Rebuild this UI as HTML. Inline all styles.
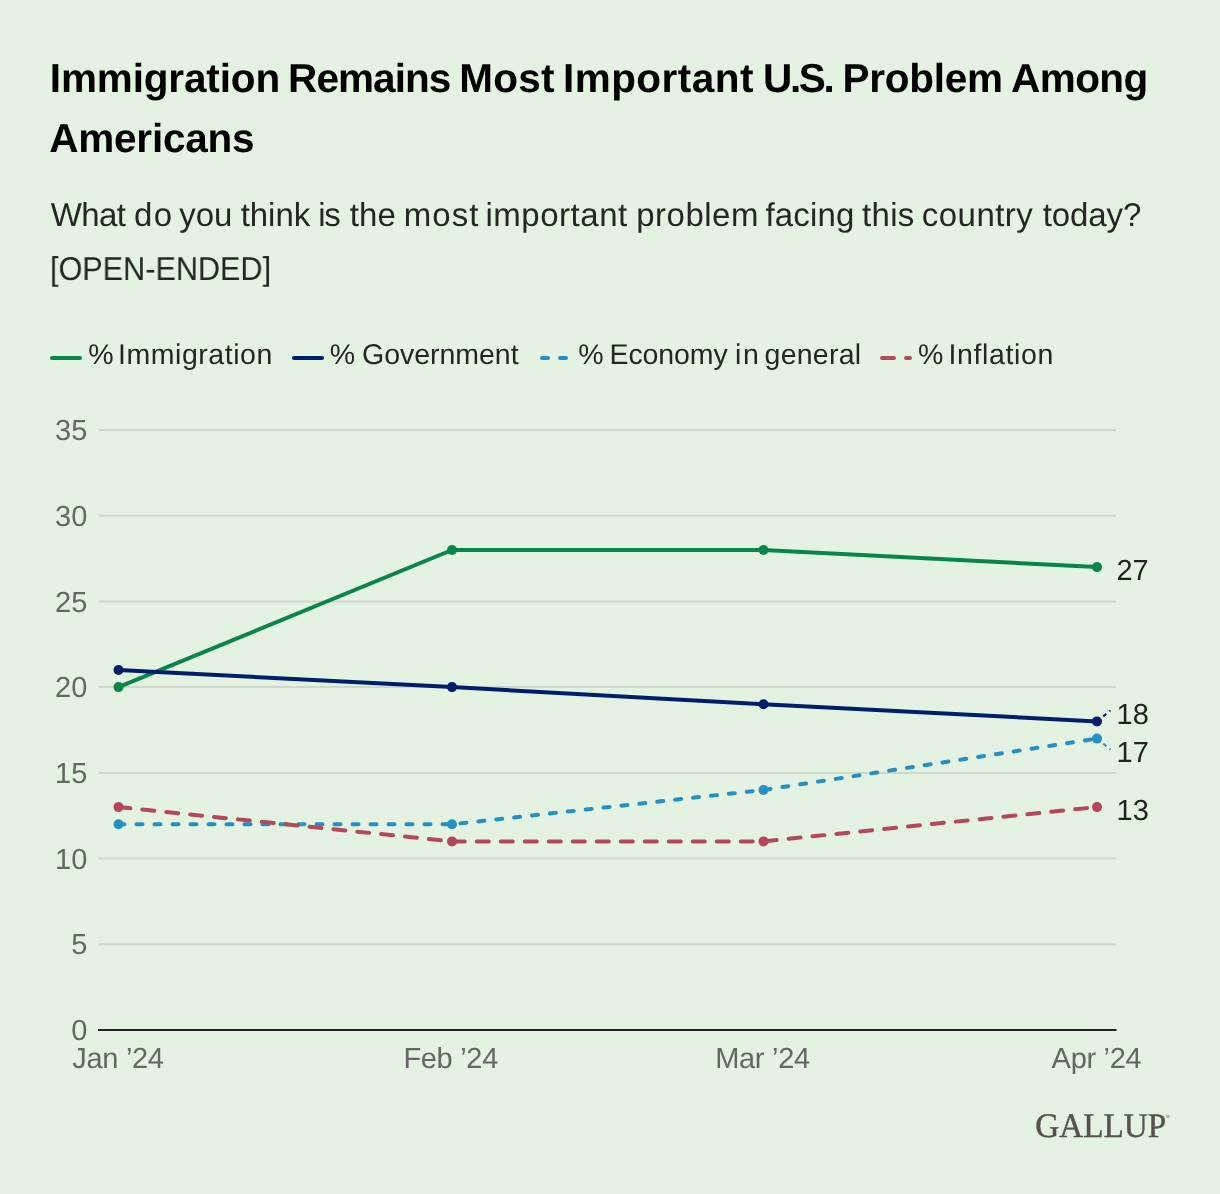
<!DOCTYPE html>
<html lang="en">
<head>
<meta charset="utf-8">
<title>Immigration Remains Most Important U.S. Problem Among Americans</title>
<style>
  html, body { margin: 0; padding: 0; }
  body {
    width: 1220px; height: 1194px; overflow: hidden;
    background: #e4f2e1;
    font-family: "Liberation Sans", sans-serif;
    position: relative;
    text-rendering: geometricPrecision;
  }
  .abs { position: absolute; white-space: nowrap; margin: 0; }
  /* force greyscale text antialiasing */
  .abs, svg.plot { will-change: transform; }
  h1.title, p.subtitle { left: 0; top: 0; width: 1220px; height: 0; font-weight: normal; font-size: 0; }
  .w { position: absolute; white-space: nowrap; }
  .t1, .t2 { font-size: 40.5px; line-height: 60px; font-weight: bold; color: #000; }
  .t1 { top: 48px; }
  .t2 { top: 108px; }
  .s1, .s2 { font-size: 33px; line-height: 54px; color: #262626; }
  .s1 { top: 188.3px; }
  .s2 { top: 242.2px; }
  .legend { left: 0; top: 0; width: 1220px; height: 0; }
  .lg { top: 335px; font-size: 28.5px; line-height: 40px; color: #262626; }
  .legend svg { position: absolute; top: 336px; }
  svg.plot { position: absolute; left: 0; top: 400px; }
  svg.plot text { font-family: "Liberation Sans", sans-serif; font-size: 29px; }
</style>
</head>
<body>

<h1 class="abs title">
<span class="w t1" style="left:49.8px;letter-spacing:-0.14px">Immigration</span>
<span class="w t1" style="left:288.1px;letter-spacing:-0.93px">Remains</span>
<span class="w t1" style="left:459.3px;letter-spacing:0.23px">Most</span>
<span class="w t1" style="left:562.9px;letter-spacing:0.49px">Important</span>
<span class="w t1" style="left:763.0px;letter-spacing:-2.33px">U.S.</span>
<span class="w t1" style="left:842.6px;letter-spacing:-0.28px">Problem</span>
<span class="w t1" style="left:1011.1px;letter-spacing:-0.60px">Among</span>
<span class="w t2" style="left:49.3px;letter-spacing:-0.24px">Americans</span>
</h1>

<p class="abs subtitle">
<span class="w s1" style="left:50.8px;letter-spacing:-0.63px">What</span>
<span class="w s1" style="left:134.1px;letter-spacing:1.40px">do</span>
<span class="w s1" style="left:179.3px;letter-spacing:-0.05px">you</span>
<span class="w s1" style="left:240.7px;letter-spacing:-0.05px">think</span>
<span class="w s1" style="left:318.3px;letter-spacing:-1.30px">is</span>
<span class="w s1" style="left:349.8px;letter-spacing:0.10px">the</span>
<span class="w s1" style="left:403.7px;letter-spacing:1.07px">most</span>
<span class="w s1" style="left:485.4px;letter-spacing:0.54px">important</span>
<span class="w s1" style="left:636.2px;letter-spacing:0.50px">problem</span>
<span class="w s1" style="left:765.4px;letter-spacing:0.18px">facing</span>
<span class="w s1" style="left:862.1px;letter-spacing:0.30px">this</span>
<span class="w s1" style="left:921.8px;letter-spacing:0.47px">country</span>
<span class="w s1" style="left:1042.8px;letter-spacing:-0.12px">today?</span>
<span class="w s2" style="left:50.3px;transform:scaleX(0.9274);transform-origin:0 50%">[OPEN-ENDED]</span>
</p>

<div class="abs legend">
  <svg style="left:50px" width="32" height="40"><line x1="2" y1="22" x2="30" y2="22" stroke="#08864a" stroke-width="4" stroke-linecap="round"/></svg>
  <svg style="left:292px" width="32" height="40"><line x1="2" y1="22" x2="30" y2="22" stroke="#011e6a" stroke-width="4" stroke-linecap="round"/></svg>
  <svg style="left:540px" width="32" height="40"><line x1="2" y1="22" x2="30" y2="22" stroke="#2590c4" stroke-width="4" stroke-linecap="round" stroke-dasharray="6 12"/></svg>
  <svg style="left:880px" width="32" height="40"><line x1="2" y1="22" x2="30" y2="22" stroke="#b4485a" stroke-width="4" stroke-linecap="round" stroke-dasharray="12 12"/></svg>
<span class="w lg" style="left:88.2px;letter-spacing:0.00px">%</span>
<span class="w lg" style="left:118.0px;letter-spacing:0.55px">Immigration</span>
<span class="w lg" style="left:329.8px;letter-spacing:0.00px">%</span>
<span class="w lg" style="left:362.0px;letter-spacing:-0.03px">Government</span>
<span class="w lg" style="left:578.3px;letter-spacing:0.00px">%</span>
<span class="w lg" style="left:609.5px;letter-spacing:-0.10px">Economy</span>
<span class="w lg" style="left:735.0px;letter-spacing:1.70px">in</span>
<span class="w lg" style="left:764.6px;letter-spacing:0.23px">general</span>
<span class="w lg" style="left:918.0px;letter-spacing:0.00px">%</span>
<span class="w lg" style="left:948.5px;letter-spacing:0.62px">Inflation</span>
</div>

<svg class="plot" width="1220" height="700" viewBox="0 400 1220 700">
  <!-- gridlines -->
  <g stroke="#cddacb" stroke-width="2">
    <line x1="99" y1="430" x2="1116" y2="430"/>
    <line x1="99" y1="515.7" x2="1116" y2="515.7"/>
    <line x1="99" y1="601.4" x2="1116" y2="601.4"/>
    <line x1="99" y1="687.1" x2="1116" y2="687.1"/>
    <line x1="99" y1="772.9" x2="1116" y2="772.9"/>
    <line x1="99" y1="858.6" x2="1116" y2="858.6"/>
    <line x1="99" y1="944.3" x2="1116" y2="944.3"/>
  </g>
  <line x1="98" y1="1030" x2="1116.5" y2="1030" stroke="#222" stroke-width="2"/>

  <!-- y tick labels -->
  <g fill="#666" text-anchor="end">
    <text x="87.3" y="440.1">35</text>
    <text x="87.3" y="525.8">30</text>
    <text x="87.3" y="611.5">25</text>
    <text x="87.3" y="697.2">20</text>
    <text x="87.3" y="783">15</text>
    <text x="87.3" y="868.7">10</text>
    <text x="87.3" y="954.4">5</text>
    <text x="87.3" y="1040.1">0</text>
  </g>

  <!-- x tick labels -->
  <g fill="#666" text-anchor="middle" letter-spacing="-0.3">
    <text x="118" y="1068">Jan ’24</text>
    <text x="450.7" y="1068">Feb ’24</text>
    <text x="762.5" y="1068">Mar ’24</text>
    <text x="1096.5" y="1068">Apr ’24</text>
  </g>

  <!-- series (drawn in legend order; later series on top) -->
  <g fill="none" stroke-width="4" stroke-linecap="round" stroke-linejoin="round">
    <polyline stroke="#08864a" points="118.5,687.1 452,550 763.5,550 1097,567.1"/>
    <polyline stroke="#011e6a" points="118.5,670 452,687.1 763.5,704.3 1097,721.4"/>
    <polyline stroke="#2590c4" stroke-dasharray="6 12" points="118.5,824.3 452,824.3 763.5,790 1097,738.6"/>
    <polyline stroke="#b4485a" stroke-dasharray="12 12" points="118.5,807.1 452,841.4 763.5,841.4 1097,807.1"/>
  </g>
  <g fill="#08864a"><circle cx="118.5" cy="687.1" r="5"/><circle cx="452" cy="550" r="5"/><circle cx="763.5" cy="550" r="5"/><circle cx="1097" cy="567.1" r="5"/></g>
  <g fill="#011e6a"><circle cx="118.5" cy="670" r="5"/><circle cx="452" cy="687.1" r="5"/><circle cx="763.5" cy="704.3" r="5"/><circle cx="1097" cy="721.4" r="5"/></g>
  <g fill="#2590c4"><circle cx="118.5" cy="824.3" r="5"/><circle cx="452" cy="824.3" r="5"/><circle cx="763.5" cy="790" r="5"/><circle cx="1097" cy="738.6" r="5"/></g>
  <g fill="#b4485a"><circle cx="118.5" cy="807.1" r="5"/><circle cx="452" cy="841.4" r="5"/><circle cx="763.5" cy="841.4" r="5"/><circle cx="1097" cy="807.1" r="5"/></g>

  <!-- connector lines to labels -->
  <line x1="1097" y1="721.4" x2="1110.4" y2="710.5" stroke="#011e6a" stroke-width="2" stroke-dasharray="4 4"/>
  <line x1="1097" y1="738.6" x2="1110.4" y2="749.5" stroke="#2590c4" stroke-width="2" stroke-dasharray="4 4"/>

  <!-- value labels -->
  <g fill="#222">
    <text x="1116.4" y="580.2">27</text>
    <text x="1116.6" y="724">18</text>
    <text x="1116.6" y="762">17</text>
    <text x="1116.6" y="820.2">13</text>
  </g>
</svg>

<svg class="abs brand" width="160" height="50" viewBox="1020 1100 160 50" style="left:1020px;top:1100px;text-rendering:geometricPrecision">
  <text x="1035.2" y="1137.4" font-family="Liberation Serif, serif" font-size="34.4" fill="#555252" stroke="#555252" stroke-width="0.45" textLength="131" lengthAdjust="spacingAndGlyphs">GALLUP</text>
  <text x="1166" y="1118.4" font-family="Liberation Sans, sans-serif" font-size="5.2" fill="#555252">®</text>
</svg>

</body>
</html>
